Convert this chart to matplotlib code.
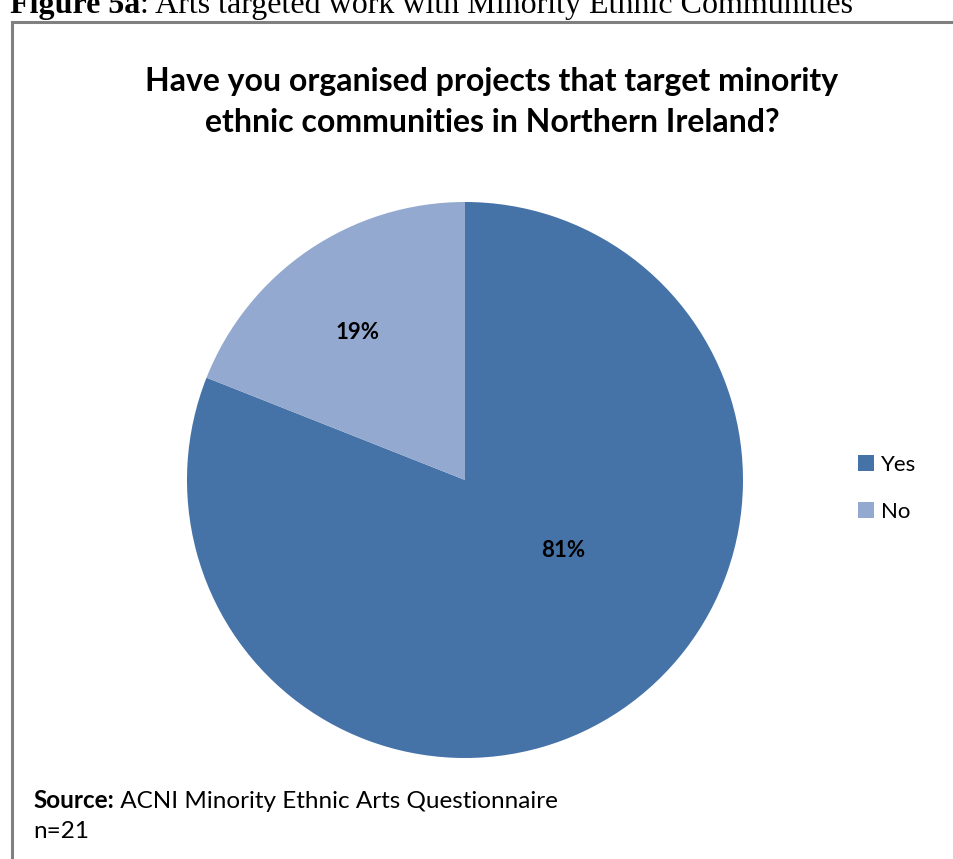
import matplotlib.pyplot as plt
from matplotlib.patches import Rectangle

labels = ['Yes', 'No']
shares = [81, 19]
colors = ['#4572A7', '#93A9CF']
title_lines = ['Have you organised projects that target minority',
               'ethnic communities in Northern Ireland?']
caption_bold = 'Figure 5a'
caption_rest = ': Arts targeted work with Minority Ethnic Communities'
source_bold = 'Source:'
source_rest = ' ACNI Minority Ethnic Arts Questionnaire'
sample_note = 'n=21'

W, H = 954, 859
fig = plt.figure(figsize=(W / 100, H / 100), dpi=100)
renderer = fig.canvas.get_renderer()


def fx(px):
    return px / W


def fy(py):
    return 1 - py / H


def run_text(x, y, parts, **kw):
    # write bold/regular pieces one after another on a single line
    for txt, weight in parts:
        t = fig.text(fx(x), fy(y), txt, fontweight=weight, ha='left', **kw)
        x += t.get_window_extent(renderer).width


# caption above the framed chart (its top is clipped by the page)
run_text(10, 13, [(caption_bold, 'bold'), (caption_rest, 'normal')],
         fontfamily='Liberation Serif', fontsize=23, va='baseline')

# gray frame round the chart
fig.patches.append(Rectangle((fx(12), fy(1000)), fx(1000), fy(22) - fy(1000),
                             transform=fig.transFigure, fill=False,
                             edgecolor='#808080', linewidth=2.2))

for i, line in enumerate(title_lines):
    fig.text(fx(492), fy(82 + 40 * i), line, fontfamily='Lato', fontweight='bold',
             fontsize=23, ha='center', va='center')

cx, cy, r = 465, 480, 278
ax = fig.add_axes([fx(cx - r), fy(cy + r), (2 * r) / W, (2 * r) / H])
wedges, texts, autotexts = ax.pie(shares, colors=colors, startangle=90, counterclock=False,
                                  autopct='%d%%',
                                  textprops=dict(fontfamily='Lato', fontweight='bold',
                                                 fontsize=16, color='black'))
# label spots inside each wedge
label_pos = [(0.353, -0.255), (-0.388, 0.529)]
for t, (lx, ly) in zip(autotexts, label_pos):
    t.set_position((lx, ly))
ax.set_xlim(-1, 1)
ax.set_ylim(-1, 1)
ax.set_aspect('equal')
ax.axis('off')

fig.legend(wedges, labels, loc='upper left', bbox_to_anchor=(fx(858), fy(455)),
           frameon=False, prop=dict(family='Lato', size=16),
           handlelength=0.72, handleheight=0.72, handletextpad=0.3,
           labelspacing=1.2, borderaxespad=0, borderpad=0)

run_text(33, 801, [(source_bold, 'bold'), (source_rest, 'normal')],
         fontfamily='Lato', fontsize=17.5, va='center')
fig.text(fx(33), fy(831), sample_note, fontfamily='Lato', fontsize=17.5, ha='left', va='center')

fig.savefig('out.png', dpi=100)
